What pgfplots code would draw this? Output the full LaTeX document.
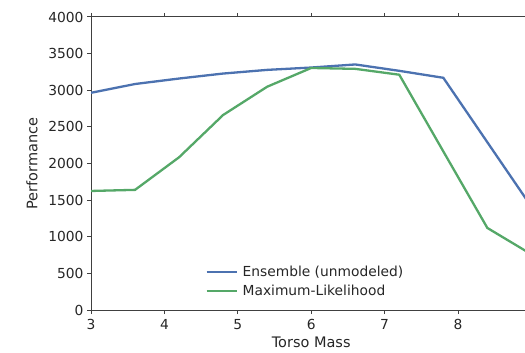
\documentclass[border=0pt]{standalone}
\usepackage{pgfplots}
\pgfplotsset{compat=1.18}
\usepackage{fontspec}
\setmainfont{DejaVu Sans}
\definecolor{sbblue}{HTML}{4C72B0}
\definecolor{sbgreen}{HTML}{55A868}
\definecolor{txt}{HTML}{262626}
\definecolor{spine}{HTML}{404040}
\begin{document}
\begin{tikzpicture}
\begin{axis}[
  scale only axis,
  width=440.4pt, height=293pt,
  xmin=3, xmax=9, ymin=0, ymax=4000,
  xtick={3,4,5,6,7,8},
  ytick={0,500,1000,1500,2000,2500,3000,3500,4000},
  /pgf/number format/assume math mode=true,
  scaled y ticks=false,
  yticklabel style={/pgf/number format/fixed,/pgf/number format/1000 sep={}},
  xticklabel style={yshift=-2pt},
  tick label style={font=\fontsize{13.8}{16}\selectfont, text=txt},
  label style={font=\fontsize{14.5}{17}\selectfont, text=txt},
  xlabel={Torso Mass}, ylabel={Performance},
  xlabel style={yshift=-2pt, inner ysep=1pt},
  ylabel style={yshift=4pt},
  axis line style={spine, line width=1pt},
  tick style={spine, line width=1pt},
  tick align=outside,
  major tick length=4pt,
  xtick pos=both, ytick pos=left,
  clip=true,
  legend cell align=left,
  legend style={draw=none, fill=none, at={(0.490,0.030)}, anchor=south,
    font=\fontsize{13.8}{16}\selectfont, text=txt, row sep=3pt,
    nodes={inner xsep=5pt}},
  legend image code/.code={\draw[#1, line width=2.3pt] (0pt,0pt) -- (30pt,0pt);},
]
\addplot[sbblue, line width=2.3pt] coordinates {
 (3.0,2965) (3.6,3085) (4.2,3160) (4.8,3228) (5.4,3278) (6.0,3310) (6.6,3352)
 (7.2,3265) (7.8,3170) (8.4,2290) (9.0,1410)
};
\addlegendentry{Ensemble (unmodeled)}
\addplot[sbgreen, line width=2.3pt] coordinates {
 (3.0,1625) (3.6,1640) (4.2,2085) (4.8,2662) (5.4,3048) (6.0,3304) (6.6,3292)
 (7.2,3212) (7.8,2165) (8.4,1120) (9.0,760)
};
\addlegendentry{Maximum-Likelihood}
\coordinate (ll) at (axis cs:3,0);
\coordinate (ur) at (axis cs:9,4000);
\end{axis}
\pgfresetboundingbox
\useasboundingbox ([shift={(-91pt,-42pt)}]ll) rectangle ([shift={(-6.4pt,17pt)}]ur);
\end{tikzpicture}
\end{document}
